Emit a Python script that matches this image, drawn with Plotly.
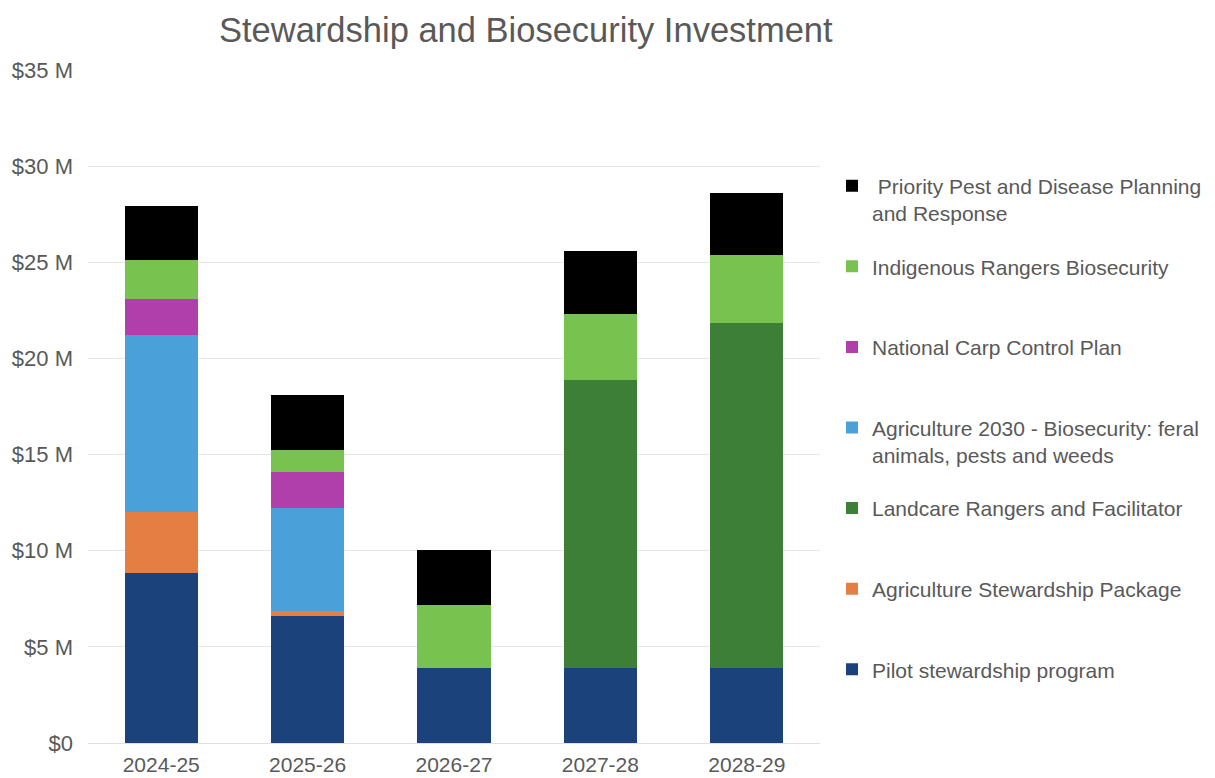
import plotly.graph_objects as go

years = ["2024-25", "2025-26", "2026-27", "2027-28", "2028-29"]

pilot = [8.85, 6.63, 3.88, 3.88, 3.88]
ag_stewardship = [3.15, 0.24, 0, 0, 0]
landcare = [0, 0, 0, 15.0, 17.98]
ag2030 = [9.2, 5.37, 0, 0, 0]
carp = [1.87, 1.84, 0, 0, 0]
indigenous = [2.03, 1.15, 3.28, 3.44, 3.5]
priority = [2.82, 2.86, 2.86, 3.28, 3.25]

tick_vals = [0, 5, 10, 15, 20, 25, 30, 35]
tick_text = ["$0", "$5 M", "$10 M", "$15 M", "$20 M", "$25 M", "$30 M", "$35 M"]

series = [
    ("Pilot stewardship program<br>\u00a0", pilot, "#1c427b"),
    ("Agriculture Stewardship Package<br>\u00a0", ag_stewardship, "#e47e43"),
    ("Landcare Rangers and Facilitator<br>\u00a0", landcare, "#3d7f36"),
    ("Agriculture 2030 - Biosecurity: feral<br>animals, pests and weeds", ag2030, "#4aa0d8"),
    ("National Carp Control Plan<br>\u00a0", carp, "#b03fab"),
    ("Indigenous Rangers Biosecurity<br>\u00a0", indigenous, "#78c24f"),
    ("\u00a0Priority Pest and Disease Planning<br>and Response", priority, "#000000"),
]

font_family = "Liberation Sans, Arial, sans-serif"
grey = "#595959"

fig = go.Figure()
n = len(series)
for i, (name, vals, color) in enumerate(series):
    fig.add_trace(go.Bar(
        x=years, y=vals, name=name, legendgroup=f"g{i}",
        legendrank=n - i,
        marker=dict(color=color, line=dict(width=0)),
    ))

fig.update_layout(
    barmode="stack",
    bargap=0.5,
    width=1207, height=770,
    paper_bgcolor="white", plot_bgcolor="white",
    margin=dict(l=80, r=395, t=62, b=35, autoexpand=False),
    font=dict(family=font_family, color=grey, size=21),
    title=dict(text="Stewardship and Biosecurity Investment",
               x=0.429, xref="container", xanchor="center",
               y=0.9714, yref="container", yanchor="middle",
               font=dict(size=34.5, color=grey, family=font_family)),
    legend=dict(
        x=1.0164, xanchor="left", y=0.858, yanchor="top",
        traceorder="grouped", tracegroupgap=23,
        valign="top",
        font=dict(size=21, color=grey, family=font_family),
        bgcolor="rgba(0,0,0,0)",
    ),
    showlegend=True,
)
fig.update_yaxes(
    range=[0, 35], tickvals=tick_vals, ticktext=tick_text,
    showgrid=True, gridcolor="#e6e6e6", gridwidth=1,
    zeroline=True, zerolinecolor="#e0e0e0", zerolinewidth=1,
    ticks="", ticklabelstandoff=14,
    tickfont=dict(size=22, color=grey, family=font_family),
    showline=False,
)
fig.update_xaxes(
    showgrid=False, ticks="", showline=False, ticklabelstandoff=7,
    tickfont=dict(size=21, color=grey, family=font_family),
)

fig.write_html("out.html")
